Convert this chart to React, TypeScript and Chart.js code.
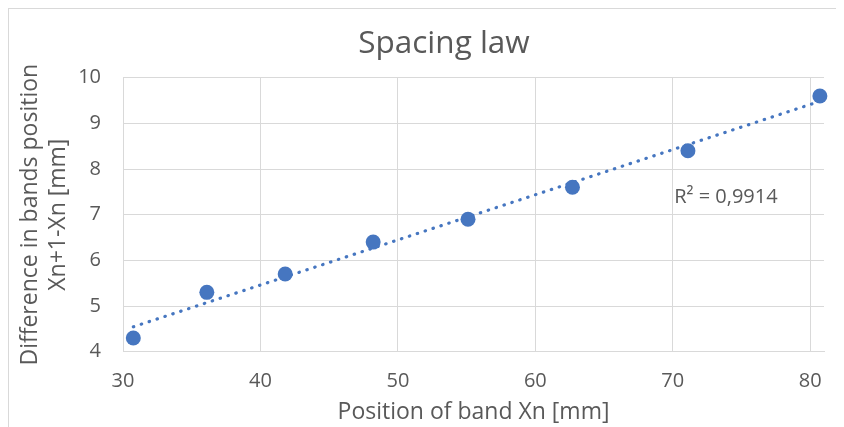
import React, { useEffect, useRef } from "react";
import { Chart, registerables } from "chart.js";

Chart.register(...registerables);

// ---- Data ----
const positionsX = [30.75, 36.1, 41.8, 48.2, 55.1, 62.7, 71.1, 80.7];
const differencesY = [4.3, 5.3, 5.7, 6.4, 6.9, 7.6, 8.4, 9.6];
const xTickValues = [30, 40, 50, 60, 70, 80];
const yTickValues = [4, 5, 6, 7, 8, 9, 10];
const chartTitle = "Spacing law";
const xAxisTitle = "Position of band Xn [mm]";
const yAxisTitle = ["Difference in bands position", "Xn+1-Xn [mm]"];
const rSquaredLabel = "R² = 0,9914";

const BLUE = "#4676C0";
const TEXT = "#595959";
const GRID = "#d9d9d9";
const FONT = '"Open Sans", "DejaVu Sans", sans-serif';

function linearFit(xs: number[], ys: number[]) {
  const n = xs.length;
  const mx = xs.reduce((a, b) => a + b, 0) / n;
  const my = ys.reduce((a, b) => a + b, 0) / n;
  let sxy = 0;
  let sxx = 0;
  for (let i = 0; i < n; i++) {
    sxy += (xs[i] - mx) * (ys[i] - my);
    sxx += (xs[i] - mx) * (xs[i] - mx);
  }
  const slope = sxy / sxx;
  return { slope, intercept: my - slope * mx };
}

const r2Plugin = {
  id: "r2label",
  afterDatasetsDraw(chart: any) {
    const { ctx, scales } = chart;
    const px = scales.x.getPixelForValue(70.1);
    const py = scales.y.getPixelForValue(7.38);
    ctx.save();
    ctx.font = `20px ${FONT}`;
    ctx.fillStyle = TEXT;
    ctx.textAlign = "left";
    ctx.textBaseline = "middle";
    ctx.fillText(rSquaredLabel, px, py);
    ctx.restore();
  },
};

export default function App() {
  const canvasRef = useRef<HTMLCanvasElement | null>(null);

  useEffect(() => {
    document.documentElement.style.overflow = "hidden";
    const canvas = canvasRef.current;
    if (!canvas) return;

    const points = positionsX.map((x, i) => ({ x, y: differencesY[i] }));
    const { slope, intercept } = linearFit(positionsX, differencesY);
    const xMin = Math.min(...positionsX);
    const xMax = Math.max(...positionsX);
    const trend = [
      { x: xMin, y: intercept + slope * xMin },
      { x: xMax, y: intercept + slope * xMax },
    ];

    const chart = new Chart(canvas, {
      type: "scatter",
      data: {
        datasets: [
          {
            data: points,
            backgroundColor: BLUE,
            borderColor: BLUE,
            borderWidth: 0,
            pointRadius: 7.5,
            pointHoverRadius: 7.5,
            clip: false as any,
            order: 0,
          },
          {
            data: trend,
            showLine: true,
            borderColor: BLUE,
            backgroundColor: BLUE,
            borderWidth: 3.2,
            borderDash: [0.5, 7.8],
            borderCapStyle: "round",
            pointRadius: 0,
            pointHoverRadius: 0,
            fill: false,
            order: 1,
          } as any,
        ],
      },
      options: {
        responsive: false,
        animation: false,
        events: [],
        layout: { padding: 0 },
        plugins: {
          legend: { display: false },
          tooltip: { enabled: false },
          title: {
            display: true,
            text: chartTitle,
            color: TEXT,
            font: { family: FONT, size: 31.5, weight: "normal", lineHeight: 1.2 },
            padding: { top: 16.4, bottom: 14.5 },
          },
        },
        scales: {
          x: {
            type: "linear",
            min: 30,
            max: 81,
            afterFit: (s: any) => {
              s.height = 77.3;
            },
            afterBuildTicks: (s: any) => {
              s.ticks = xTickValues.map((v) => ({ value: v }));
            },
            ticks: {
              padding: 18,
              color: TEXT,
              font: { family: FONT, size: 20, lineHeight: 1.2 },
            },
            grid: { color: GRID, lineWidth: 1, drawTicks: false },
            border: { color: GRID, width: 1 },
            title: {
              display: true,
              text: xAxisTitle,
              color: TEXT,
              font: { family: FONT, size: 23, lineHeight: 1.2 },
              padding: { top: 0, bottom: 2.5 },
            },
          },
          y: {
            type: "linear",
            min: 4,
            max: 10,
            afterFit: (s: any) => {
              s.width = 114;
            },
            afterBuildTicks: (s: any) => {
              s.ticks = yTickValues.map((v) => ({ value: v }));
            },
            ticks: {
              padding: 22,
              color: TEXT,
              font: { family: FONT, size: 20, lineHeight: 1.2 },
            },
            grid: { color: GRID, lineWidth: 1, drawTicks: false },
            border: { color: GRID, width: 1 },
            title: {
              display: true,
              text: yAxisTitle,
              color: TEXT,
              font: { family: FONT, size: 23, lineHeight: 28 / 23 },
              padding: { top: 7, bottom: 0 },
            },
          },
          spacer: {
            type: "linear",
            position: "right",
            display: true,
            afterFit: (s: any) => {
              s.width = 55;
            },
            ticks: { display: false },
            grid: { display: false, drawTicks: false },
            border: { display: false },
            title: { display: false },
          },
        },
      },
      plugins: [r2Plugin],
    } as any);

    return () => chart.destroy();
  }, []);

  return (
    <div style={{ width: 836, height: 419, overflow: "hidden", position: "relative", background: "#fff" }}>
      <div
        style={{
          width: 872,
          height: 440,
          border: `1px solid ${GRID}`,
          boxSizing: "border-box",
          background: "#fff",
        }}
      >
        <canvas ref={canvasRef} width={870} height={420} style={{ display: "block", width: 870, height: 420 }} />
      </div>
    </div>
  );
}
